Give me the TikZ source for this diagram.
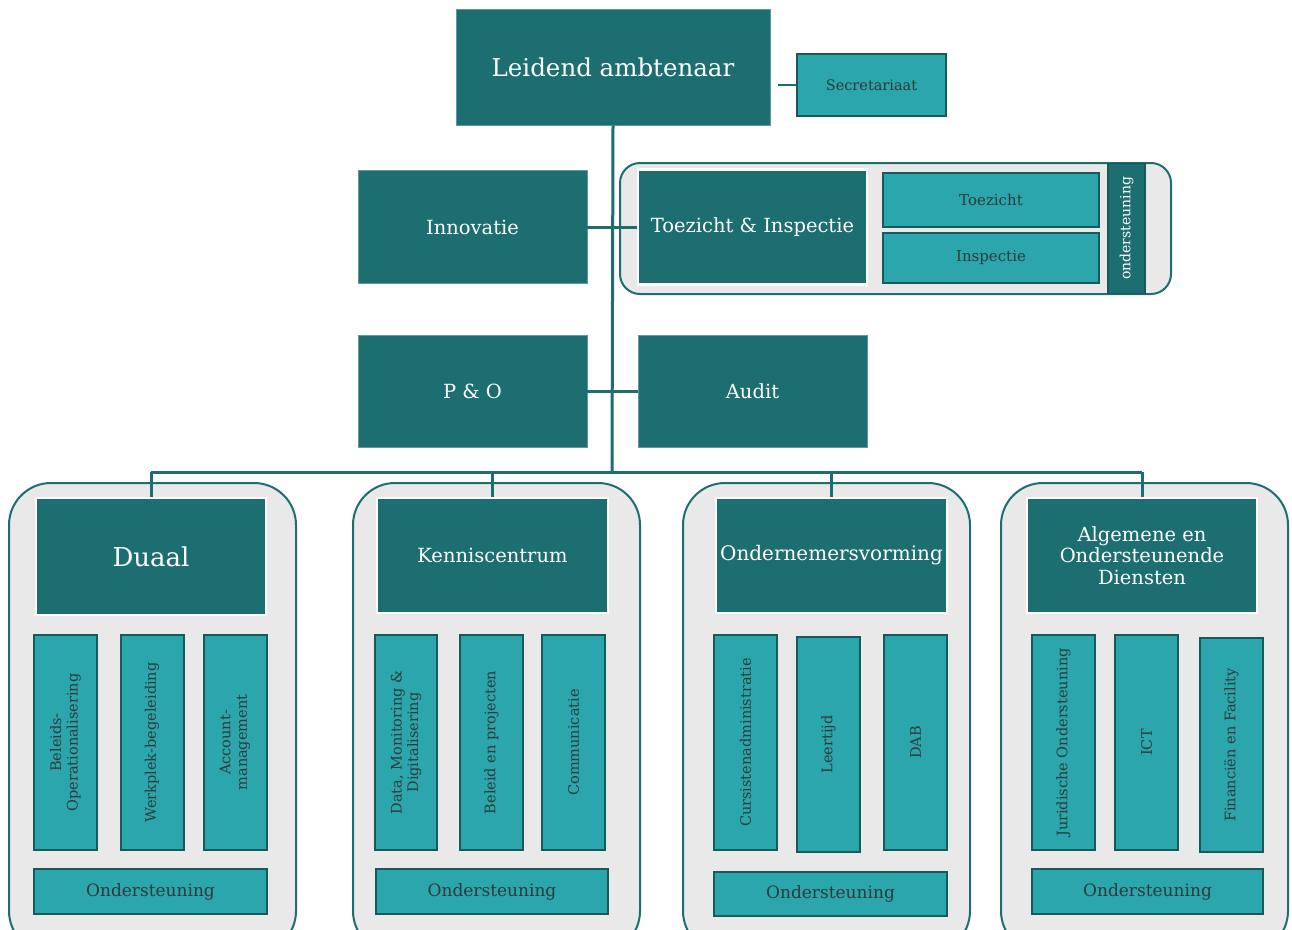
\documentclass[tikz,border=0pt]{standalone}
\usepackage{fontspec}
\setmainfont{DejaVu Serif}
\definecolor{dteal}{HTML}{1D6E70}
\definecolor{lteal}{HTML}{2AA6AC}
\definecolor{bdark}{HTML}{175A5C}
\definecolor{cgrey}{HTML}{E9E9E9}
\definecolor{stext}{HTML}{2F3A3B}
\tikzset{
  dbox/.style={fill=dteal, draw=dteal!70!white, line width=0.8pt, text=white, align=center, inner sep=2pt},
  hbox/.style={fill=dteal, draw=white, line width=2.5pt, text=white, align=center, inner sep=2pt},
  lbox/.style={fill=lteal, draw=bdark, line width=2pt, text=stext, align=center, inner sep=2pt},
  vtext/.style={rotate=90, align=center, text=stext, font=\fontsize{14.5}{16.5}\selectfont},
  cont/.style={fill=cgrey, draw=dteal, line width=2pt, rounded corners=42pt},
  conn/.style={draw=dteal, line width=3pt},
}
\begin{document}
\begin{tikzpicture}[x=1pt,y=-1pt]
\useasboundingbox (0,0) rectangle (1292,929);
\clip (0,0) rectangle (1292,929);

% top level
\node[dbox, minimum width=314pt, minimum height=116pt, font=\fontsize{24.5}{28}\selectfont] (la) at (613,67) {Leidend ambtenaar};
\node[lbox, minimum width=149pt, minimum height=62pt, font=\fontsize{14.5}{16}\selectfont] (sec) at (871.5,85) {Secretariaat};

\node[dbox, minimum width=229pt, minimum height=113pt, font=\fontsize{19.5}{22}\selectfont] (inn) at (472.5,227) {Innovatie};
\node[cont, rounded corners=20pt, minimum width=551pt, minimum height=131pt] (ticont) at (895.5,228.5) {};
\node[fill=dteal, draw=bdark, line width=1.5pt, minimum width=37pt, minimum height=130pt, inner sep=0pt] (strip) at (1126.5,228.5) {};
\node[rotate=90, text=white, font=\fontsize{14}{16}\selectfont] (striptext) at (strip) {ondersteuning};
\node[hbox, minimum width=229pt, minimum height=115pt, font=\fontsize{19.5}{22}\selectfont] (ti) at (752.5,227) {Toezicht \& Inspectie};
\node[lbox, minimum width=216pt, minimum height=54pt, font=\fontsize{15}{17}\selectfont] (toe) at (991,200) {Toezicht};
\node[lbox, minimum width=216pt, minimum height=50pt, font=\fontsize{15}{17}\selectfont] (insp) at (991,258) {Inspectie};

\node[dbox, minimum width=229pt, minimum height=112pt, font=\fontsize{19.5}{22}\selectfont] (po) at (472.5,391) {P \& O};
\node[dbox, minimum width=229pt, minimum height=112pt, font=\fontsize{19.5}{22}\selectfont] (aud) at (752.5,391) {Audit};

% containers
\node[cont, minimum width=287pt, minimum height=470pt] (c1) at (152.5,718) {};
\node[cont, minimum width=287pt, minimum height=470pt] (c2) at (496.5,718) {};
\node[cont, minimum width=287pt, minimum height=470pt] (c3) at (826.5,718) {};
\node[cont, minimum width=287pt, minimum height=470pt] (c4) at (1144.5,718) {};

% Duaal
\node[hbox, minimum width=230pt, minimum height=117pt, font=\fontsize{26}{30}\selectfont] (duaal) at (151,556.5) {Duaal};
\node[lbox, minimum width=63pt, minimum height=215pt] (d1) at (65.5,742.5) {};
\node[vtext] (d1t) at (d1) {Beleids-\\Operationalisering};
\node[lbox, minimum width=63pt, minimum height=215pt] (d2) at (152,742.5) {};
\node[vtext] (d2t) at (d2) {Werkplek-begeleiding};
\node[lbox, minimum width=63pt, minimum height=215pt] (d3) at (235,742.5) {};
\node[vtext] (d3t) at (d3) {Account-\\management};
\node[lbox, minimum width=233pt, minimum height=45pt, font=\fontsize{17}{20}\selectfont] (d4) at (150.5,891.5) {Ondersteuning};

% Kenniscentrum
\node[hbox, minimum width=231pt, minimum height=115pt, font=\fontsize{19.5}{22}\selectfont] (kc) at (492.5,555.5) {Kenniscentrum};
\node[lbox, minimum width=62pt, minimum height=215pt] (k1) at (406,742.5) {};
\node[vtext] (k1t) at (k1) {Data, Monitoring \&\\Digitalisering};
\node[lbox, minimum width=63pt, minimum height=215pt] (k2) at (491.5,742.5) {};
\node[vtext] (k2t) at (k2) {Beleid en projecten};
\node[lbox, minimum width=63pt, minimum height=215pt] (k3) at (573.5,742.5) {};
\node[vtext] (k3t) at (k3) {Communicatie};
\node[lbox, minimum width=232pt, minimum height=45pt, font=\fontsize{17}{20}\selectfont] (k4) at (492,891.5) {Ondersteuning};

% Ondernemersvorming
\node[hbox, minimum width=231pt, minimum height=115pt, font=\fontsize{20}{23}\selectfont] (ov) at (831.5,555.5) {Ondernemersvorming};
\node[lbox, minimum width=63pt, minimum height=215pt] (o1) at (745.5,742.5) {};
\node[vtext] (o1t) at (o1) {Cursistenadministratie};
\node[lbox, minimum width=63pt, minimum height=215pt] (o2) at (828.5,744.5) {};
\node[vtext] (o2t) at (o2) {Leertijd};
\node[lbox, minimum width=63pt, minimum height=215pt] (o3) at (915.5,742.5) {};
\node[vtext] (o3t) at (o3) {DAB};
\node[lbox, minimum width=233pt, minimum height=44pt, font=\fontsize{17}{20}\selectfont] (o4) at (830.5,894) {Ondersteuning};

% Algemene
\node[hbox, minimum width=230pt, minimum height=115pt, font=\fontsize{19.5}{21.5}\selectfont] (aod) at (1142,555.5) {Algemene en\\Ondersteunende\\Diensten};
\node[lbox, minimum width=63pt, minimum height=215pt] (a1) at (1063.5,742.5) {};
\node[vtext] (a1t) at (a1) {Juridische Ondersteuning};
\node[lbox, minimum width=63pt, minimum height=215pt] (a2) at (1146.5,742.5) {};
\node[vtext] (a2t) at (a2) {ICT};
\node[lbox, minimum width=63pt, minimum height=214pt] (a3) at (1231.5,745) {};
\node[vtext] (a3t) at (a3) {Financiën en Facility};
\node[lbox, minimum width=231pt, minimum height=45pt, font=\fontsize{17}{20}\selectfont] (a4) at (1147.5,891.5) {Ondersteuning};

% connectors
\coordinate (hub) at (612,472);
\path[conn] (la.south) -- (hub);
\path[conn, line width=1.5pt] ([xshift=8pt]la.east |- sec.west) -- (sec.west);
\path[conn] (inn.east) -- (ti.west);
\path[conn] (po.east) -- (aud.west);
\path[conn] (duaal.north |- hub) -- (aod.north |- hub);
\path[conn] (duaal.north |- hub) -- (duaal.north);
\path[conn] (kc.north |- hub) -- (kc.north);
\path[conn] (ov.north |- hub) -- (ov.north);
\path[conn] (aod.north |- hub) -- (aod.north);
\end{tikzpicture}
\end{document}
